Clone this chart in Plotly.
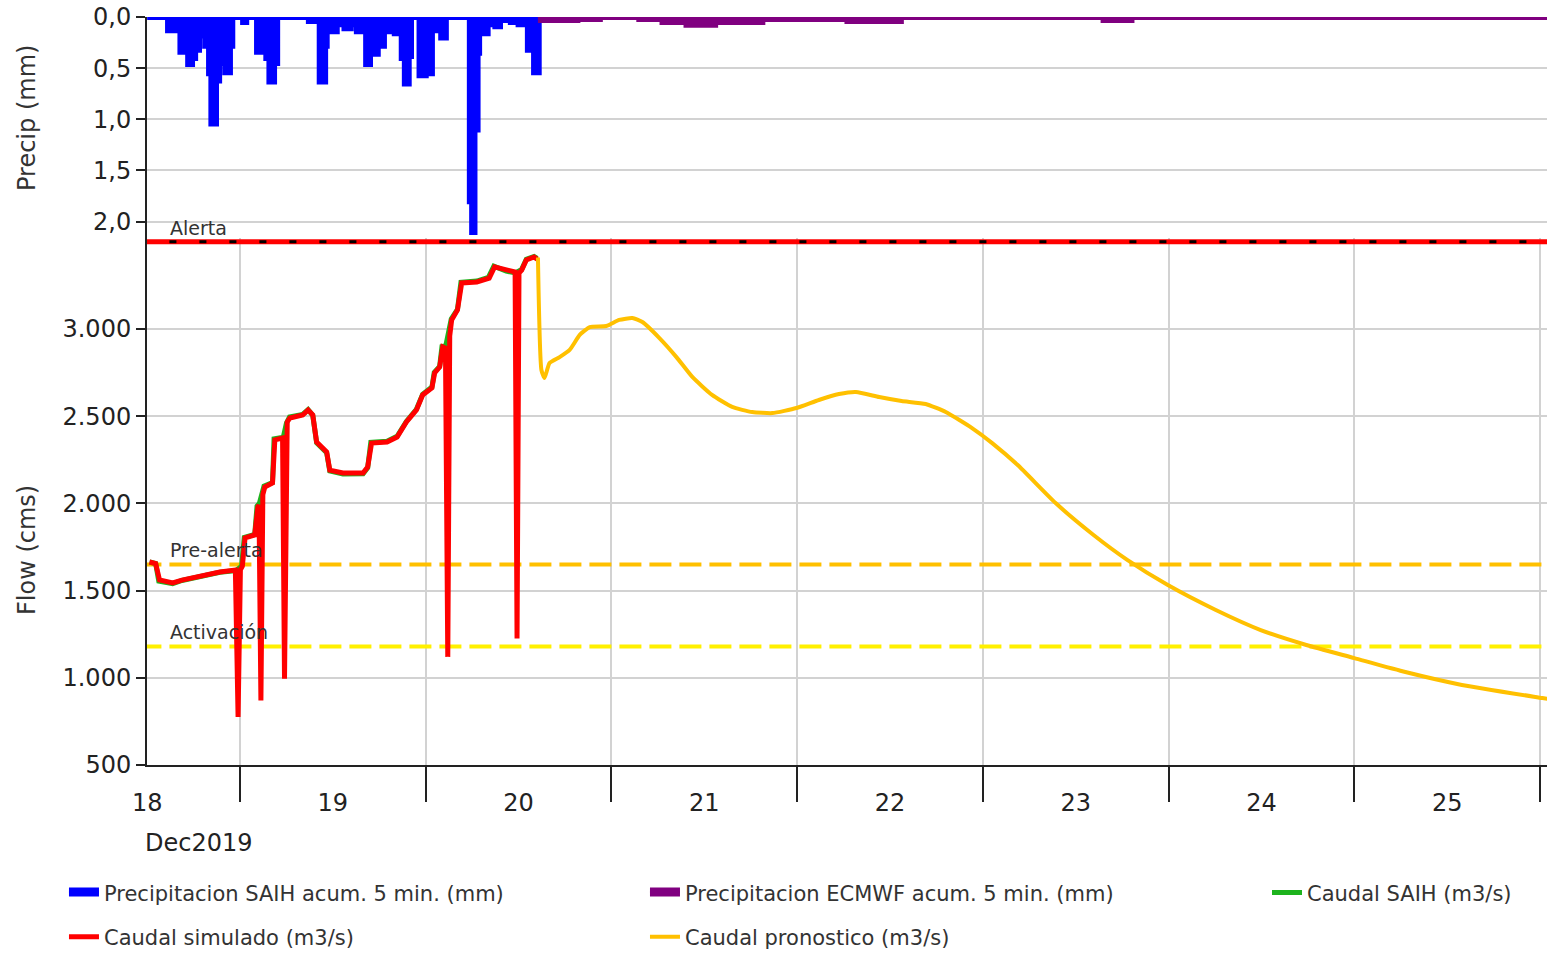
import pandas as pd
import plotly.graph_objects as go
from plotly.subplots import make_subplots

# ---------------- data (hours counted from 2019-12-18 00:00) ----------------
BASE = pd.Timestamp("2019-12-18 00:00")

precip_saih_h = [12.0, 14.7, 15.9, 16.3, 16.7, 17.0, 17.3, 17.8, 18.2, 18.3, 18.7, 19.1, 19.5, 20.0,
                 20.3, 20.9, 21.3, 21.8, 22.1, 22.7, 23.0, 24.4, 24.8, 26.2, 26.9, 27.4, 27.8, 28.4,
                 28.8, 32.9, 33.8, 34.3, 35.0, 35.2, 35.9, 36.5, 37.5, 38.3, 39.1, 40.0, 40.3, 40.8,
                 41.2, 41.8, 42.6, 44.0, 44.9, 45.3, 45.8, 46.1, 47.2, 48.0, 48.8, 49.5, 50.0, 50.6,
                 53.7, 54.0, 54.3, 54.7, 54.9, 55.5, 56.0, 57.0, 57.6, 59.0, 60.0, 61.2, 62.0, 62.6]
precip_saih_v = [0.0, 0.13, 0.0, 0.34, 0.22, 0.30, 0.46, 0.40, 0.28, 0.32, 0.18, 0.06, 0.28, 0.55,
                 1.04, 0.62, 0.45, 0.28, 0.54, 0.28, 0.0, 0.05, 0.0, 0.34, 0.10, 0.40, 0.63, 0.45,
                 0.0, 0.04, 0.0, 0.63, 0.28, 0.08, 0.14, 0.07, 0.11, 0.07, 0.14, 0.07, 0.46, 0.36,
                 0.36, 0.28, 0.14, 0.16, 0.40, 0.65, 0.38, 0.0, 0.57, 0.55, 0.13, 0.10, 0.20, 0.0,
                 1.80, 2.10, 1.10, 0.35, 0.12, 0.16, 0.07, 0.09, 0.03, 0.05, 0.07, 0.32, 0.54, 0.0]

precip_ecmwf_h = [62.5, 67.6, 70.5, 75.6, 78.6, 81.7, 85.4, 91.5, 97.3, 102.5, 109.4, 135.6, 139.2, 194.0]
precip_ecmwf_v = [0.03, 0.02, 0.0, 0.02, 0.05, 0.075, 0.05, 0.02, 0.02, 0.04, 0.0, 0.03, 0.0, 0.0]

caudal_saih_h = [12.3, 13.1, 13.5, 15.3, 16.5, 18.4, 20.0, 21.4, 23.5, 24.2, 24.55, 25.9, 26.2, 26.5,
                 27.1, 28.2, 28.4, 29.6, 30.0, 30.4, 32.1, 32.8, 33.4, 33.9, 35.2, 35.6, 37.3, 39.9,
                 40.5, 40.9, 43.0, 44.3, 45.5, 46.8, 47.6, 48.8, 49.1, 49.8, 50.1, 50.6, 51.3, 52.1,
                 52.55, 54.6, 56.1, 56.8, 58.4, 59.6, 60.4, 61.0, 62.0, 62.4]
caudal_saih_v = [1664, 1655, 1555, 1540, 1558, 1575, 1592, 1605, 1615, 1640, 1805, 1822, 1985, 2000,
                 2100, 2120, 2370, 2380, 2460, 2495, 2510, 2538, 2505, 2348, 2290, 2186, 2168, 2170,
                 2205, 2350, 2356, 2385, 2470, 2540, 2626, 2667, 2752, 2786, 2900, 2905, 3058, 3112,
                 3268, 3275, 3296, 3360, 3332, 3322, 3342, 3400, 3416, 3405]

caudal_sim_h = [12.3, 13.1, 13.6, 15.3, 16.5, 18.4, 20.0, 21.4, 23.4, 23.75, 24.05, 24.3, 24.65, 25.9,
                26.3, 26.45, 26.7, 26.95, 27.2, 28.2, 28.5, 29.5, 29.75, 30.0, 30.1, 30.45, 32.1,
                32.8, 33.4, 33.9, 35.2, 35.6, 37.3, 39.9, 40.5, 41.0, 43.0, 44.3, 45.5, 46.8, 47.6,
                48.8, 49.15, 49.8, 50.2, 50.55, 50.85, 51.1, 51.35, 52.1, 52.65, 54.6, 56.2, 56.9,
                58.4, 59.55, 59.8, 60.05, 60.4, 61.0, 62.0, 62.4]
caudal_sim_v = [1664, 1655, 1561, 1544, 1560, 1578, 1595, 1607, 1618, 775, 1620, 1640, 1802, 1819,
                1979, 1990, 870, 2050, 2094, 2117, 2364, 2375, 995, 2420, 2467, 2490, 2507,
                2536, 2507, 2352, 2295, 2191, 2174, 2174, 2209, 2346, 2352, 2381, 2467, 2536, 2622,
                2662, 2748, 2782, 2897, 2890, 1120, 2960, 3052, 3109, 3264, 3270, 3292, 3356,
                3338, 3327, 1225, 3320, 3338, 3396, 3413, 3400]

caudal_pron_h = [62.5, 62.95, 63.35, 64.0, 65.3, 66.6, 67.9, 69.2, 71.35, 73.0, 74.7, 76.0, 78.2, 80.4,
                 82.45, 85.0, 87.6, 90.2, 92.8, 95.9, 98.8, 101.4, 103.6, 106.6, 109.5, 112.6, 115.2,
                 118.6, 121.2, 124.5, 129.4, 134.3, 138.7, 143.9, 150.1, 155.9, 161.8, 168.0, 174.6,
                 181.9, 192.3, 194.0]
caudal_pron_v = [3410, 2765, 2719, 2805, 2839, 2880, 2966, 3011, 3017, 3052, 3063, 3040, 2948, 2839,
                 2725, 2622, 2553, 2524, 2518, 2547, 2593, 2627, 2639, 2610, 2587, 2570, 2524,
                 2432, 2346, 2220, 2002, 1819, 1675, 1532, 1389, 1274, 1188, 1113, 1033,
                 959, 884, 872]

umbral_nombres = ["Alerta", "Pre-alerta", "Activación"]
umbral_valores = [3500, 1650, 1180]

day_labels = ["18", "19", "20", "21", "22", "23", "24", "25"]
precip_ticks = [0.0, 0.5, 1.0, 1.5, 2.0]
flow_ticks = [500, 1000, 1500, 2000, 2500, 3000]

x_range_h = [11.98, 192.9]
line_span_h = [11.0, 194.0]


def t(hours):
    return [BASE + pd.Timedelta(hours=h) for h in hours]


GRID = "#d2d2d2"
AX = "#222222"
FONT = "DejaVu Sans"

fig = make_subplots(rows=2, cols=1, shared_xaxes=True, vertical_spacing=0,
                    row_heights=[0.2959, 0.7041])

# thresholds
fig.add_trace(go.Scatter(x=t(line_span_h), y=[umbral_valores[0]] * 2, mode="lines",
                         line=dict(color="#FF0000", width=5), showlegend=False, hoverinfo="skip"),
              row=2, col=1)
fig.add_trace(go.Scatter(x=t(line_span_h), y=[umbral_valores[0]] * 2, mode="lines",
                         line=dict(color="#000000", width=3, dash="7px,23px"), showlegend=False,
                         hoverinfo="skip"), row=2, col=1)
fig.add_trace(go.Scatter(x=t(line_span_h), y=[umbral_valores[1]] * 2, mode="lines",
                         line=dict(color="#FFC000", width=4, dash="22px,8px"), showlegend=False,
                         hoverinfo="skip"), row=2, col=1)
fig.add_trace(go.Scatter(x=t(line_span_h), y=[umbral_valores[2]] * 2, mode="lines",
                         line=dict(color="#FFF000", width=4, dash="22px,8px"), showlegend=False,
                         hoverinfo="skip"), row=2, col=1)

# precipitation
fig.add_trace(go.Scatter(x=t(precip_saih_h), y=precip_saih_v, mode="lines",
                         line=dict(color="#0000FF", width=6, shape="hv"), fill="tozeroy",
                         fillcolor="#0000FF", name="Precipitacion SAIH acum. 5 min. (mm)",
                         legend="legend", legendgroup="a"), row=1, col=1)
fig.add_trace(go.Scatter(x=t(precip_ecmwf_h), y=precip_ecmwf_v, mode="lines",
                         line=dict(color="#800080", width=6, shape="hv"), fill="tozeroy",
                         fillcolor="#800080", name="Precipitacion ECMWF acum. 5 min. (mm)",
                         legend="legend2", legendgroup="b"), row=1, col=1)

# flows
fig.add_trace(go.Scatter(x=t(caudal_saih_h), y=caudal_saih_v, mode="lines",
                         line=dict(color="#1DB31D", width=5), name="Caudal SAIH (m3/s)",
                         legend="legend3", legendgroup="c"), row=2, col=1)
fig.add_trace(go.Scatter(x=t(caudal_sim_h), y=caudal_sim_v, mode="lines",
                         line=dict(color="#FF0000", width=5), name="Caudal simulado (m3/s)",
                         legend="legend", legendgroup="d"), row=2, col=1)
fig.add_trace(go.Scatter(x=t(caudal_pron_h), y=caudal_pron_v, mode="lines",
                         line=dict(color="#FFC000", width=4, shape="spline", smoothing=0.5),
                         name="Caudal pronostico (m3/s)",
                         legend="legend2", legendgroup="e"), row=2, col=1)

# threshold labels
for name, val in zip(umbral_nombres, umbral_valores):
    fig.add_annotation(x=t([14.7])[0], y=val, xref="x2", yref="y2", text=name,
                       showarrow=False, xanchor="left", yanchor="bottom", yshift=1,
                       font=dict(family=FONT, size=19, color="#333333"))

# axis titles and date caption
fig.add_annotation(x=0, y=0.865, xref="paper", yref="paper", text="Precip (mm)", textangle=-90,
                   showarrow=False, xanchor="center", yanchor="middle", xshift=-120,
                   font=dict(family=FONT, size=24, color="#333333"))
fig.add_annotation(x=0, y=0.2874, xref="paper", yref="paper", text="Flow (cms)", textangle=-90,
                   showarrow=False, xanchor="center", yanchor="middle", xshift=-120,
                   font=dict(family=FONT, size=24, color="#333333"))
fig.add_annotation(x=0, y=-0.1043, xref="paper", yref="paper", text="Dec2019",
                   showarrow=False, xanchor="left", yanchor="middle", xshift=-4,
                   font=dict(family=FONT, size=24, color="#222222"))

xr = [str(v) for v in t(x_range_h)]
noons = t([12 + 24 * i for i in range(len(day_labels))])

fig.update_xaxes(type="date", range=xr, showgrid=False, zeroline=False,
                 minor=dict(dtick=86400000, tick0="2019-12-18", showgrid=True,
                            gridcolor=GRID, gridwidth=2))
fig.update_xaxes(row=1, col=1, showticklabels=False, ticks="")
fig.update_xaxes(row=2, col=1, tickmode="array", tickvals=noons, ticktext=day_labels,
                 ticks="outside", ticklen=15, tickcolor="rgba(0,0,0,0)",
                 tickfont=dict(family=FONT, size=24, color=AX),
                 showline=True, linecolor=AX, linewidth=2,
                 minor=dict(ticks="outside", ticklen=35, tickwidth=2, tickcolor=AX))

common_y = dict(ticks="outside", ticklen=9, tickwidth=2, tickcolor=AX, showline=True,
                linecolor=AX, linewidth=2, showgrid=True, gridcolor=GRID, gridwidth=2,
                zeroline=False, tickfont=dict(family=FONT, size=24, color=AX))
fig.update_yaxes(row=1, col=1, range=[2.163, 0], tickmode="array", tickvals=precip_ticks,
                 tickformat=".1f", **common_y)
fig.update_yaxes(row=2, col=1, range=[500, 3520], tickmode="array", tickvals=flow_ticks,
                 tickformat=",d", **common_y)

leg_common = dict(orientation="v", xanchor="left", yanchor="top", y=-0.1435,
                  tracegroupgap=14, bgcolor="rgba(0,0,0,0)",
                  font=dict(family=FONT, size=21, color="#333333"))
fig.update_layout(
    width=1547, height=953,
    margin=dict(l=147, r=0, t=17, b=188, autoexpand=False),
    paper_bgcolor="white", plot_bgcolor="white",
    separators=",.",
    font=dict(family=FONT, color=AX),
    showlegend=True,
    legend=dict(x=-0.0593, **leg_common),
    legend2=dict(x=0.3557, **leg_common),
    legend3=dict(x=0.8, **leg_common),
)

fig.write_html("out.html", config={"displayModeBar": False},
               post_script="document.body.style.margin='0';document.body.style.overflow='hidden';")
